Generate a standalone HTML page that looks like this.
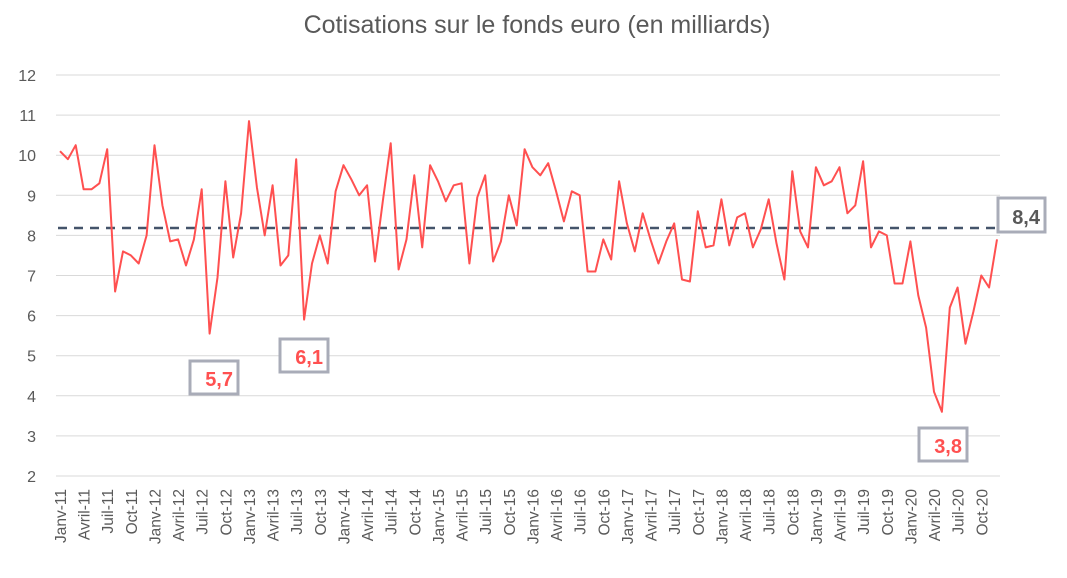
<!DOCTYPE html>
<html><head><meta charset="utf-8"><style>
body{margin:0;background:#fff;}
svg{display:block;font-family:"Liberation Sans",sans-serif;}
</style></head><body>
<svg id="s" width="1067" height="578" viewBox="0 0 1067 578" xmlns="http://www.w3.org/2000/svg">
<text x="537" y="33" text-anchor="middle" font-size="25" fill="#595959">Cotisations sur le fonds euro (en milliards)</text>
<g id="grid"></g>
<g id="yl" font-size="16" fill="#595959" text-anchor="end"></g>
<g id="xl" font-size="15.5" fill="#595959"></g>
<line x1="58" y1="228" x2="997" y2="228" stroke="#44546a" stroke-width="2.5" stroke-dasharray="9,7"/>
<polyline id="ln" fill="none" stroke="#ff5050" stroke-width="2" stroke-linejoin="round"/>
<rect x="998" y="198" width="47" height="34" fill="#fff" stroke="#a9acb8" stroke-width="3"/>
<text x="1040" y="224" text-anchor="end" font-size="20" font-weight="bold" fill="#595959">8,4</text>
<rect x="190" y="361" width="48" height="33" fill="#fff" stroke="#a9acb8" stroke-width="3"/>
<text x="233" y="386" text-anchor="end" font-size="20" font-weight="bold" fill="#ff5050">5,7</text>
<rect x="280" y="339" width="48" height="33" fill="#fff" stroke="#a9acb8" stroke-width="3"/>
<text x="323" y="364" text-anchor="end" font-size="20" font-weight="bold" fill="#ff5050">6,1</text>
<rect x="919" y="428" width="48" height="33" fill="#fff" stroke="#a9acb8" stroke-width="3"/>
<text x="962" y="453" text-anchor="end" font-size="20" font-weight="bold" fill="#ff5050">3,8</text>
</svg>
<script>
var d=[10.1,9.9,10.25,9.15,9.15,9.3,10.15,6.6,7.6,7.5,7.3,8.0,
10.25,8.75,7.85,7.9,7.25,7.9,9.15,5.55,6.95,9.35,7.45,8.55,
10.85,9.2,8.0,9.25,7.25,7.5,9.9,5.9,7.3,8.0,7.3,9.1,
9.75,9.4,9.0,9.25,7.35,8.85,10.3,7.15,7.9,9.5,7.7,9.75,
9.35,8.85,9.25,9.3,7.3,8.95,9.5,7.35,7.85,9.0,8.25,10.15,
9.7,9.5,9.8,9.1,8.35,9.1,9.0,7.1,7.1,7.9,7.4,9.35,
8.3,7.6,8.55,7.9,7.3,7.85,8.3,6.9,6.85,8.6,7.7,7.75,
8.9,7.75,8.45,8.55,7.7,8.15,8.9,7.8,6.9,9.6,8.1,7.7,
9.7,9.25,9.35,9.7,8.55,8.75,9.85,7.7,8.1,8.0,6.8,6.8,
7.85,6.5,5.7,4.1,3.6,6.2,6.7,5.3,6.1,7.0,6.7,7.9];
function Y(v){return 476-(v-2)*40.1;}
function X(i){return 60+i*7.874;}
var ns="http://www.w3.org/2000/svg";
var g=document.getElementById('grid'),yl=document.getElementById('yl'),xl=document.getElementById('xl');
for(var v=2;v<=12;v++){
 var l=document.createElementNS(ns,'line');l.setAttribute('x1',56);l.setAttribute('x2',1000);
 l.setAttribute('y1',Y(v));l.setAttribute('y2',Y(v));l.setAttribute('stroke','#d9d9d9');l.setAttribute('stroke-width','1');g.appendChild(l);
 var t=document.createElementNS(ns,'text');t.setAttribute('x',36);t.setAttribute('y',Y(v)+6);t.textContent=v;yl.appendChild(t);
}
var m=['Janv','Avril','Juil','Oct'];
for(var k=0;k<40;k++){
 var x=X(k*3)+6,t=document.createElementNS(ns,'text');
 t.setAttribute('transform','translate('+x+',489) rotate(-90)');t.setAttribute('text-anchor','end');
 t.textContent=m[k%4]+'-'+(11+Math.floor(k/4));xl.appendChild(t);
}
document.getElementById('ln').setAttribute('points',d.map(function(v,i){return X(i).toFixed(1)+','+Y(v).toFixed(1);}).join(' '));
</script>
</body></html>
